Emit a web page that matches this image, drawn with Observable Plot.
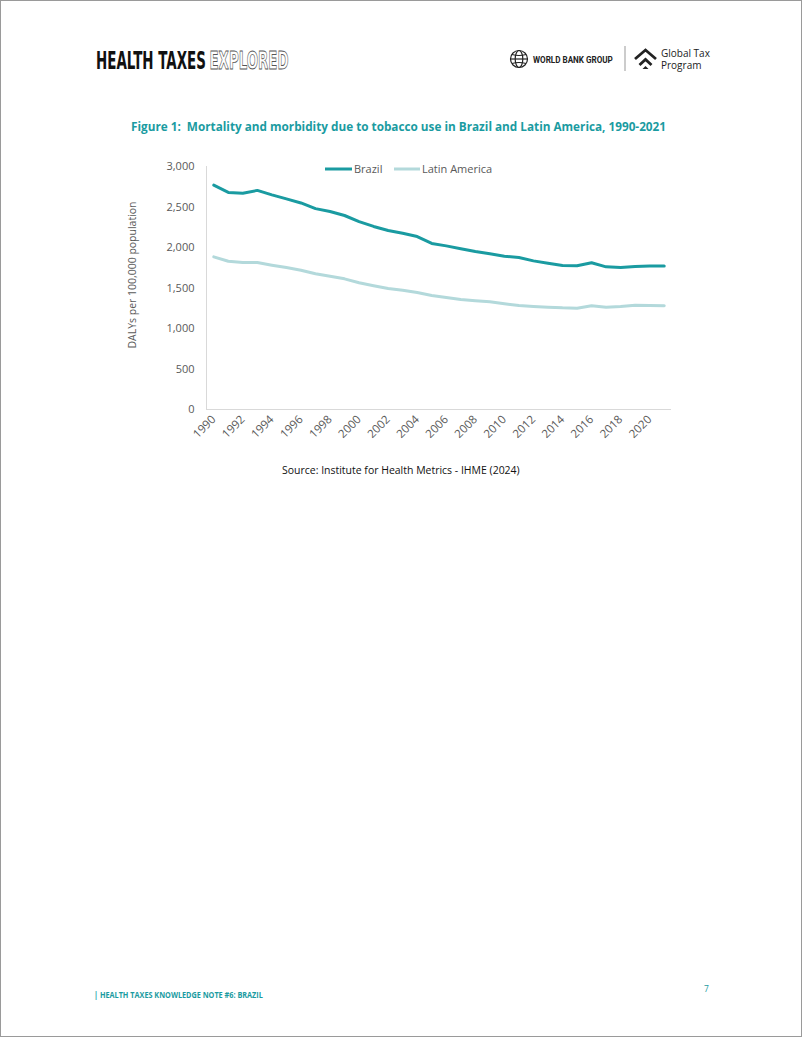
<!DOCTYPE html>
<html>
<head>
<meta charset="utf-8">
<script src="https://cdn.jsdelivr.net/npm/d3@7"></script>
<script src="https://cdn.jsdelivr.net/npm/@observablehq/plot@0.6"></script>
<style>
  html, body { margin: 0; padding: 0; background: #fff; }
  #page { position: relative; width: 800px; height: 1035px; border: 1px solid #9a9a9a; overflow: hidden; font-family: "Open Sans", sans-serif; }
  #chart { position: absolute; left: 0; top: 150px; }
  .abs { position: absolute; left: 0; top: 0; }
</style>
</head>
<body>
<div id="page">
  <svg class="abs" width="800" height="1035" id="deco">
    <!-- header -->
    <text class="fit" data-x="95" data-y="68" data-w="110" font-family="DejaVu Sans" font-weight="bold" font-size="24.5" fill="#111">HEALTH TAXES</text>
    <text class="fit" data-x="208.5" data-y="68" data-w="79" font-family="DejaVu Sans" font-weight="bold" font-size="24.5" fill="#fff" stroke="#555" stroke-width="0.9">EXPLORED</text>
    <g transform="translate(518,58)" fill="none" stroke="#222" stroke-width="1.2">
      <circle r="8.5"/>
      <ellipse rx="3.8" ry="8.5"/>
      <line x1="-8.5" y1="0" x2="8.5" y2="0"/>
      <path d="M-7,-4.5 Q0,-2.5 7,-4.5 M-7,4.5 Q0,2.5 7,4.5"/>
    </g>
    <text class="fit" data-x="532" data-y="61.5" data-w="80" font-family="Roboto" font-weight="bold" font-size="9" fill="#222">WORLD BANK GROUP</text>
    <line x1="624" y1="45" x2="624" y2="70" stroke="#999" stroke-width="1"/>
    <g fill="none" stroke="#222" stroke-width="2.8" stroke-linejoin="miter">
      <path d="M634,58 L644.5,49 L655,58"/>
      <path d="M638.5,64 L644.5,58.5 L650.5,64"/>
    </g>
    <path d="M641.5,68 L644.5,65 L647.5,68 Z" fill="#222"/>
    <text x="660" y="55.5" font-family="Open Sans" font-size="10" fill="#222">Global Tax</text>
    <text x="660" y="67.5" font-family="Open Sans" font-size="10" fill="#222">Program</text>
    <!-- title -->
    <text id="title" class="fit" data-x="130" data-y="130" data-w="536" font-family="Open Sans" font-weight="bold" font-size="13" fill="#1a9ba1" style="white-space:pre"></text>
    <!-- legend -->
    <line x1="324" y1="168" x2="351" y2="168" stroke="#1a9ba1" stroke-width="3"/>
    <text id="leg1" x="353" y="172" font-family="Open Sans" font-size="11" fill="#595959"></text>
    <line x1="393" y1="168" x2="419" y2="168" stroke="#b3d9db" stroke-width="3"/>
    <text id="leg2" x="421" y="172" font-family="Open Sans" font-size="11" fill="#595959"></text>
    <!-- y label -->
    <text id="ylab" transform="translate(135,274) rotate(-90)" text-anchor="middle" font-family="Open Sans" font-size="11" fill="#595959" textLength="147" lengthAdjust="spacingAndGlyphs"></text>
    <!-- source -->
    <text id="source" class="fit" data-x="281" data-y="473" data-w="238" font-family="Open Sans" font-size="11" fill="#111"></text>
    <!-- footer -->
    <text class="fit" data-x="93" data-y="997" data-w="169" font-family="Open Sans" font-weight="bold" font-size="9.5" fill="#1a9ba1">| HEALTH TAXES KNOWLEDGE NOTE #6: BRAZIL</text>
    <text x="703" y="991" font-family="Open Sans" font-size="8.5" fill="#1a9ba1">7</text>
  </svg>
  <div id="chart"></div>
</div>
<script>
const title = "Figure 1:  Mortality and morbidity due to tobacco use in Brazil and Latin America, 1990-2021";
const yLabel = "DALYs per 100,000 population";
const source = "Source: Institute for Health Metrics - IHME (2024)";
const seriesNames = ["Brazil", "Latin America"];
const years = [1990,1991,1992,1993,1994,1995,1996,1997,1998,1999,2000,2001,2002,2003,2004,2005,2006,2007,2008,2009,2010,2011,2012,2013,2014,2015,2016,2017,2018,2019,2020,2021];
const brazil = [2770,2680,2670,2705,2650,2600,2550,2480,2445,2395,2320,2260,2210,2175,2135,2050,2020,1985,1950,1922,1893,1877,1835,1806,1778,1774,1812,1761,1753,1765,1772,1772];
const latinAmerica = [1885,1830,1815,1815,1782,1753,1720,1675,1646,1613,1564,1527,1494,1473,1444,1407,1383,1358,1342,1329,1305,1284,1272,1263,1255,1251,1280,1263,1272,1288,1284,1280];
const yTicks = [0,500,1000,1500,2000,2500,3000];
const xTicks = years.filter(y => y % 2 === 0);
const colors = ["#1a9ba1", "#b3d9db"];

document.getElementById("title").textContent = title;
document.getElementById("ylab").textContent = yLabel;
document.getElementById("source").textContent = source;
document.getElementById("leg1").textContent = seriesNames[0];
document.getElementById("leg2").textContent = seriesNames[1];

// scale texts horizontally to the widths measured on the reference
document.querySelectorAll("text.fit").forEach(el => {
  const natural = el.getComputedTextLength();
  const target = +el.dataset.w;
  const sx = natural > 0 ? target / natural : 1;
  el.setAttribute("transform", `translate(${el.dataset.x},${el.dataset.y}) scale(${sx},1)`);
});

const data = [];
years.forEach((y, i) => {
  data.push({year: y, series: seriesNames[0], value: brazil[i]});
  data.push({year: y, series: seriesNames[1], value: latinAmerica[i]});
});

const chart = Plot.plot({
  width: 800,
  height: 300,
  marginLeft: 205,
  marginRight: 130,
  marginTop: 15,
  marginBottom: 42,
  style: {fontFamily: "Open Sans", fontSize: "11px", color: "#595959", background: "transparent"},
  x: {type: "point", domain: years, padding: 0.5, round: false, label: null},
  y: {domain: [0, 3000], label: null},
  color: {domain: seriesNames, range: colors},
  marks: [
    Plot.frame({anchor: "left", stroke: "#d9d9d9"}),
    Plot.ruleY([0], {stroke: "#d9d9d9"}),
    Plot.axisY({ticks: yTicks, tickSize: 0, tickPadding: 12, tickFormat: d3.format(","), label: null, fill: "#595959"}),
    Plot.axisX({ticks: xTicks, tickSize: 0, tickPadding: 8, tickRotate: -45, tickFormat: d => String(d), label: null, fill: "#595959", fontSize: 11.5}),
    Plot.line(data.filter(d => d.series === seriesNames[1]), {x: "year", y: "value", stroke: "series", strokeWidth: 3, curve: "linear"}),
    Plot.line(data.filter(d => d.series === seriesNames[0]), {x: "year", y: "value", stroke: "series", strokeWidth: 3, curve: "linear"})
  ]
});
document.getElementById("chart").appendChild(chart);
</script>
</body>
</html>
